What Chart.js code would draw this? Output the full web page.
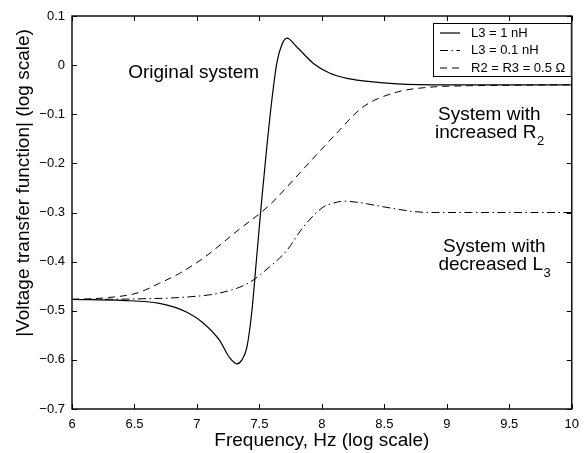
<!DOCTYPE html>
<html>
<head>
<meta charset="utf-8">
<script src="https://cdn.jsdelivr.net/npm/chart.js@4.4.0/dist/chart.umd.min.js"></script>
<style>
  html, body { margin: 0; padding: 0; background: #fff; }
</style>
</head>
<body>
<canvas id="chart" width="587" height="453"></canvas>
<script>
// values (x = frequency, y = |transfer fn|, both log scale)
const freqOrig = [6, 6.4, 6.7, 6.92, 7.05, 7.18, 7.26, 7.32, 7.36, 7.40, 7.44, 7.48, 7.52, 7.56, 7.60, 7.64, 7.68, 7.72, 7.80, 7.93, 8.06, 8.2, 8.33, 8.6, 9, 9.5, 10];
const magOrig  = [-0.477, -0.479, -0.485, -0.503, -0.525, -0.560, -0.595, -0.608, -0.600, -0.574, -0.500, -0.385, -0.270, -0.165, -0.070, 0.005, 0.042, 0.055, 0.037, 0.004, -0.016, -0.027, -0.032, -0.038, -0.040, -0.040, -0.040];

const freqL3 = [6, 6.5, 6.92, 7.18, 7.41, 7.58, 7.72, 7.85, 8.01, 8.09, 8.18, 8.33, 8.46, 8.6, 8.73, 8.89, 9.2, 10];
const magL3  = [-0.477, -0.476, -0.472, -0.464, -0.444, -0.411, -0.377, -0.330, -0.289, -0.281, -0.277, -0.281, -0.287, -0.293, -0.298, -0.300, -0.300, -0.300];

const freqR2 = [6, 6.25, 6.52, 6.70, 6.86, 7.05, 7.32, 7.58, 7.85, 8.12, 8.33, 8.6, 8.86, 9.18, 9.5, 10];
const magR2  = [-0.477, -0.474, -0.464, -0.444, -0.424, -0.393, -0.338, -0.285, -0.212, -0.138, -0.085, -0.055, -0.045, -0.042, -0.041, -0.040];

const seriesLabels = ['L3 = 1 nH', 'L3 = 0.1 nH', 'R2 = R3 = 0.5 \u03A9'];
const xTicks = [6, 6.5, 7, 7.5, 8, 8.5, 9, 9.5, 10];
const yTicks = [-0.7, -0.6, -0.5, -0.4, -0.3, -0.2, -0.1, 0, 0.1];

const FONT = '"Liberation Sans", Arial, Helvetica, sans-serif';

function toPoints(xs, ys){
  return xs.map((x, i) => ({x: x, y: ys[i]}));
}

function fmtY(v){
  if (Math.abs(v) < 1e-9) return '0';
  return v.toFixed(1).replace('-', '\u2212');
}

// draws text with an optional subscript part, centred on cx
function drawSub(ctx, main, sub, cx, baseline){
  ctx.font = '19px ' + FONT;
  const w1 = ctx.measureText(main).width;
  ctx.font = '13px ' + FONT;
  const w2 = sub ? ctx.measureText(sub).width : 0;
  let x = cx - (w1 + w2) / 2;
  ctx.font = '19px ' + FONT;
  ctx.fillText(main, x, baseline);
  if (sub){
    ctx.font = '13px ' + FONT;
    ctx.fillText(sub, x + w1 + 0.5, baseline + 7);
  }
}

const decorPlugin = {
  id: 'decor',
  afterDraw(chart){
    const ctx = chart.ctx;
    const a = chart.chartArea;
    const xs = chart.scales.x, ys = chart.scales.y;
    ctx.save();
    ctx.strokeStyle = '#000';
    ctx.fillStyle = '#000';

    // box + inward ticks, matlab style
    ctx.lineWidth = 1.4;
    ctx.strokeRect(a.left, a.top, a.right - a.left, a.bottom - a.top);
    ctx.lineWidth = 1;
    ctx.beginPath();
    for (const v of xTicks){
      const px = Math.round(xs.getPixelForValue(v)) + 0.5;
      ctx.moveTo(px, a.bottom); ctx.lineTo(px, a.bottom - 5);
      ctx.moveTo(px, a.top); ctx.lineTo(px, a.top + 5);
    }
    for (const v of yTicks){
      const py = Math.round(ys.getPixelForValue(v)) + 0.5;
      ctx.moveTo(a.left, py); ctx.lineTo(a.left + 5, py);
      ctx.moveTo(a.right, py); ctx.lineTo(a.right - 5, py);
    }
    ctx.stroke();

    // y axis title
    ctx.save();
    ctx.font = '19px ' + FONT;
    ctx.textAlign = 'center';
    ctx.textBaseline = 'middle';
    ctx.translate(24, 183);
    ctx.rotate(-Math.PI / 2);
    ctx.fillText('|Voltage transfer function| (log scale)', 0, 0);
    ctx.restore();

    // annotations
    ctx.textAlign = 'left';
    ctx.textBaseline = 'alphabetic';
    ctx.font = '19px ' + FONT;
    ctx.fillText('Original system', xs.getPixelForValue(6.45), ys.getPixelForValue(-0.027));
    const cx1 = xs.getPixelForValue(9.34);
    drawSub(ctx, 'System with', null, cx1, ys.getPixelForValue(-0.112));
    drawSub(ctx, 'increased R', '2', cx1, ys.getPixelForValue(-0.149));
    const cx2 = xs.getPixelForValue(9.38);
    drawSub(ctx, 'System with', null, cx2, ys.getPixelForValue(-0.380));
    drawSub(ctx, 'decreased L', '3', cx2, ys.getPixelForValue(-0.418));

    // legend box
    const bx = 433, by = 23, bw = a.right - bx, bh = 53;
    ctx.fillStyle = '#fff';
    ctx.fillRect(bx, by, bw, bh);
    ctx.lineWidth = 1;
    ctx.strokeRect(bx + 0.5, by + 0.5, bw - 1, bh);
    ctx.fillStyle = '#000';
    ctx.font = '13px ' + FONT;
    ctx.textBaseline = 'middle';
    chart.data.datasets.forEach((ds, i) => {
      const y = by + 10 + i * 17.5;
      ctx.beginPath();
      ctx.setLineDash(ds.borderDash || []);
      ctx.lineWidth = ds.borderWidth;
      ctx.moveTo(bx + 7, y);
      ctx.lineTo(bx + 27, y);
      ctx.stroke();
      ctx.setLineDash([]);
      ctx.fillText(ds.label, bx + 38, y);
    });
    ctx.restore();
  }
};

const ctx = document.getElementById('chart').getContext('2d');
const chart = new Chart(ctx, {
  type: 'line',
  data: {
    datasets: [
      {
        label: seriesLabels[0],
        data: toPoints(freqOrig, magOrig),
        borderColor: '#000',
        borderWidth: 1.2,
        pointRadius: 0,
        cubicInterpolationMode: 'monotone',
        fill: false
      },
      {
        label: seriesLabels[1],
        data: toPoints(freqL3, magL3),
        borderColor: '#000',
        borderWidth: 1,
        borderDash: [8, 3.5, 1.5, 3.5],
        pointRadius: 0,
        cubicInterpolationMode: 'monotone',
        fill: false
      },
      {
        label: seriesLabels[2],
        data: toPoints(freqR2, magR2),
        borderColor: '#000',
        borderWidth: 1,
        borderDash: [7, 5],
        pointRadius: 0,
        cubicInterpolationMode: 'monotone',
        fill: false
      }
    ]
  },
  options: {
    responsive: false,
    animation: false,
    devicePixelRatio: 1,
    layout: { padding: { top: 16, right: 15, left: 0, bottom: 0 } },
    plugins: {
      legend: { display: false },
      tooltip: { enabled: false }
    },
    scales: {
      x: {
        type: 'linear',
        min: 6, max: 10,
        afterBuildTicks: s => { s.ticks = xTicks.map(v => ({value: v})); },
        afterFit: s => { s.height = 44; },
        grid: { display: false, drawTicks: false },
        border: { display: false },
        ticks: {
          color: '#000',
          font: { family: FONT, size: 13 },
          padding: 8,
          maxRotation: 0,
          callback: v => String(v)
        },
        title: {
          display: true,
          text: 'Frequency, Hz (log scale)',
          color: '#000',
          font: { family: FONT, size: 19 },
          padding: { top: 0, bottom: 1 }
        }
      },
      y: {
        min: -0.7, max: 0.1,
        afterBuildTicks: s => { s.ticks = yTicks.map(v => ({value: v})); },
        afterFit: s => { s.width = 72; },
        grid: { display: false, drawTicks: false },
        border: { display: false },
        ticks: {
          color: '#000',
          font: { family: FONT, size: 13 },
          padding: 7,
          callback: v => fmtY(v)
        }
      }
    }
  },
  plugins: [decorPlugin]
});
</script>
</body>
</html>
